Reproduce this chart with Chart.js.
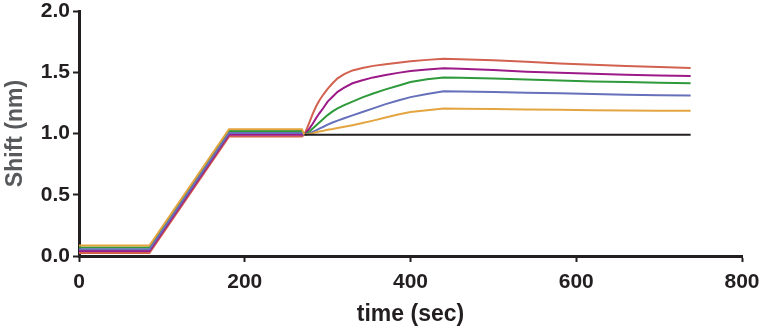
<!DOCTYPE html>
<html>
<head>
<meta charset="utf-8">
<script src="https://cdn.jsdelivr.net/npm/chart.js@4/dist/chart.umd.min.js"></script>
<style>
html,body{margin:0;padding:0;background:#fff;}
#wrap{width:768px;height:335px;}
</style>
</head>
<body>
<div id="wrap"><canvas id="c" width="768" height="335"></canvas></div>
<script>
const times = [0, 85, 181, 269,
  272, 275, 278, 282, 286, 290, 295, 300, 306, 312, 320, 330, 342, 355, 370, 385, 400, 420, 440,
  460, 500, 540, 580, 620, 660, 700, 738];
const redVals    = [0.025, 0.025, 0.975, 0.975,
  0.99, 1.04, 1.09, 1.16, 1.22, 1.27, 1.32, 1.365, 1.41, 1.45, 1.485, 1.515, 1.535, 1.552, 1.565, 1.577, 1.589, 1.601, 1.611,
  1.607, 1.598, 1.585, 1.572, 1.562, 1.552, 1.543, 1.535];
const purpleVals = [0.04, 0.04, 0.99, 0.99,
  0.99, 1.015, 1.04, 1.08, 1.125, 1.165, 1.21, 1.26, 1.30, 1.34, 1.375, 1.41, 1.435, 1.458, 1.477, 1.495, 1.51, 1.523, 1.532,
  1.528, 1.518, 1.505, 1.495, 1.487, 1.48, 1.474, 1.47];
const greenVals  = [0.07, 0.07, 1.02, 1.02,
  0.99, 1.0, 1.015, 1.04, 1.065, 1.09, 1.12, 1.15, 1.18, 1.205, 1.232, 1.26, 1.295, 1.327, 1.36, 1.39, 1.42, 1.442, 1.458,
  1.455, 1.448, 1.44, 1.432, 1.425, 1.42, 1.415, 1.41];
const blueVals   = [0.055, 0.055, 1.005, 1.005,
  0.99, 0.995, 1.0, 1.013, 1.025, 1.04, 1.055, 1.072, 1.09, 1.105, 1.125, 1.148, 1.175, 1.205, 1.24, 1.27, 1.297, 1.322, 1.344,
  1.342, 1.338, 1.333, 1.328, 1.322, 1.317, 1.313, 1.31];
const orangeVals = [0.085, 0.085, 1.035, 1.035,
  0.99, 0.993, 0.997, 1.003, 1.01, 1.016, 1.022, 1.03, 1.037, 1.045, 1.055, 1.068, 1.085, 1.105, 1.13, 1.155, 1.175, 1.19, 1.204,
  1.203, 1.2, 1.196, 1.193, 1.19, 1.188, 1.186, 1.185];
const blackVals  = [null, null, null, null,
  0.99, 0.99, 0.99, 0.99, 0.99, 0.99, 0.99, 0.99, 0.99, 0.99, 0.99, 0.99, 0.99, 0.99, 0.99, 0.99, 0.99, 0.99, 0.99,
  0.99, 0.99, 0.99, 0.99, 0.99, 0.99, 0.99, 0.99];
const xTicks = [0, 200, 400, 600, 800];
const yTicks = [0.0, 0.5, 1.0, 1.5, 2.0];

const series = [
  {name:'black', vals: blackVals, color:'#231f20'},
  {name:'orange', vals: orangeVals, color:'#e3a540'},
  {name:'blue', vals: blueVals, color:'#6670bb'},
  {name:'green', vals: greenVals, color:'#2e9a3b'},
  {name:'purple', vals: purpleVals, color:'#9b1a88'},
  {name:'red', vals: redVals, color:'#d2614f'}
];

const dark = '#231f20';
const tickFont = {family:'"Liberation Sans", Arial, sans-serif', size:21, weight:'bold'};
const titleFont = {family:'"Liberation Sans", Arial, sans-serif', size:23, weight:'bold'};

new Chart(document.getElementById('c'), {
  type: 'line',
  data: {
    datasets: series.map(s => ({
      label: s.name,
      data: times.map((t, i) => ({x: t, y: s.vals[i]})),
      borderColor: s.color,
      backgroundColor: s.color,
      borderWidth: 2,
      pointRadius: 0,
      tension: 0,
      spanGaps: false,
      fill: false
    }))
  },
  options: {
    responsive: false,
    animation: false,
    devicePixelRatio: 1,
    layout: {padding: {top: 11, right: 26, left: 0, bottom: 0}},
    plugins: {legend: {display: false}, tooltip: {enabled: false}},
    scales: {
      x: {
        type: 'linear',
        min: 0, max: 800,
        afterFit: s => { s.height = 79; s.paddingLeft = 0; s.paddingRight = 0; },
        afterBuildTicks: s => { s.ticks = xTicks.map(v => ({value: v})); },
        border: {color: dark, width: 3},
        grid: {drawOnChartArea: false, drawTicks: true, tickLength: 6, tickColor: dark, tickWidth: 2, color: dark},
        ticks: {color: dark, font: tickFont, padding: 8, maxRotation: 0},
        title: {display: true, text: 'time (sec)', color: dark, font: titleFont, padding: {top: 4, bottom: 7}}
      },
      y: {
        type: 'linear',
        min: 0, max: 2.0,
        afterFit: s => { s.width = 79; s.paddingTop = 0; s.paddingBottom = 0; },
        afterBuildTicks: s => { s.ticks = yTicks.map(v => ({value: v})); },
        border: {color: dark, width: 3},
        grid: {drawOnChartArea: false, drawTicks: true, tickLength: 6, tickColor: dark, tickWidth: 2, color: dark},
        ticks: {color: dark, font: tickFont, padding: 3, callback: v => Number(v).toFixed(1)},
        title: {display: true, text: 'Shift (nm)', color: '#58595b', font: titleFont, padding: {top: 2, bottom: 4}}
      }
    }
  }
});
</script>
</body>
</html>
